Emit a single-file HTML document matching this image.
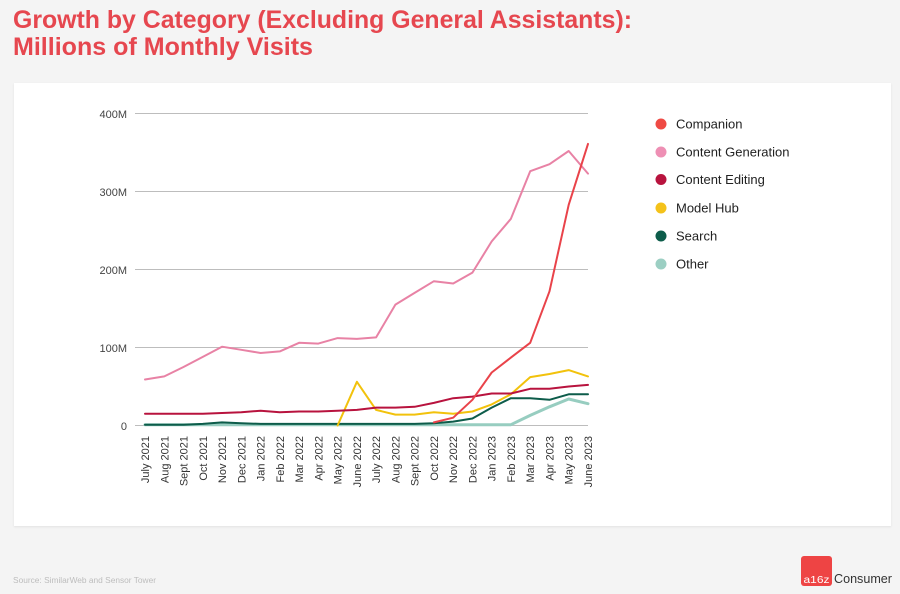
<!DOCTYPE html>
<html>
<head>
<meta charset="utf-8">
<style>
  html,body{margin:0;padding:0;background:#f4f4f4;}
  body{width:900px;height:594px;overflow:hidden;position:relative;font-family:"Liberation Sans",sans-serif;}
  svg{position:absolute;left:0;top:0;}
</style>
</head>
<body>
<svg width="900" height="594" viewBox="0 0 900 594" xmlns="http://www.w3.org/2000/svg" font-family="Liberation Sans, sans-serif">
  <defs>
    <filter id="sh" x="-5%" y="-5%" width="110%" height="110%">
      <feDropShadow dx="0" dy="1" stdDeviation="1" flood-color="#000" flood-opacity="0.08"/>
    </filter>
  </defs>
  <rect x="0" y="0" width="900" height="594" fill="#f4f4f4"/>
  <!-- Title -->
  <text x="13" y="28" font-size="25" font-weight="bold" fill="#e6474f" textLength="619" lengthAdjust="spacingAndGlyphs">Growth by Category (Excluding General Assistants):</text>
  <text x="13" y="55" font-size="25" font-weight="bold" fill="#e6474f" textLength="300" lengthAdjust="spacingAndGlyphs">Millions of Monthly Visits</text>

  <!-- Card -->
  <rect x="14" y="83" width="877" height="443" fill="#ffffff" filter="url(#sh)"/>

  <!-- Gridlines -->
  <g stroke="#bdbdbd" stroke-width="1">
    <line x1="135" y1="113.5" x2="588" y2="113.5"/>
    <line x1="135" y1="191.5" x2="588" y2="191.5"/>
    <line x1="135" y1="269.5" x2="588" y2="269.5"/>
    <line x1="135" y1="347.5" x2="588" y2="347.5"/>
    <line x1="135" y1="425.5" x2="588" y2="425.5"/>
  </g>
  <!-- Y labels -->
  <g font-size="11" fill="#444" text-anchor="end">
    <text x="127" y="118">400M</text>
    <text x="127" y="196">300M</text>
    <text x="127" y="274">200M</text>
    <text x="127" y="352">100M</text>
    <text x="127" y="430">0</text>
  </g>

  <!-- Series -->
  <g fill="none" stroke-width="2" stroke-linejoin="round" stroke-linecap="round">
    <!-- Other -->
    <polyline stroke="#97cdc0" stroke-width="3" points="145,424.7 164.3,424.7 183.5,424.7 202.8,424.7 222,424.7 241.3,424.7 260.6,424.7 279.8,424.7 299.1,424.7 318.3,424.7 337.6,424.7 356.9,424.7 376.1,424.7 395.4,424.7 414.6,424.7 433.9,424.7 453.2,424.7 472.4,424.7 491.7,424.7 510.9,424.7 530.2,415.4 549.5,406.8 568.7,399 588,403.7"/>
    <!-- Search -->
    <polyline stroke="#0d5c4a" points="145,424.7 164.3,424.7 183.5,424.7 202.8,423.9 222,422.4 241.3,423.2 260.6,423.9 279.8,423.9 299.1,423.9 318.3,423.9 337.6,423.9 356.9,423.9 376.1,423.9 395.4,423.9 414.6,423.9 433.9,423.2 453.2,421.6 472.4,418.5 491.7,407.6 510.9,398.2 530.2,398.2 549.5,399.8 568.7,394.3 588,394.3"/>
    <!-- Model Hub -->
    <polyline stroke="#f2c20c" points="337.6,425.5 356.9,381.8 376.1,409.9 395.4,414.6 414.6,414.6 433.9,412.2 453.2,413.8 472.4,411.5 491.7,404.4 510.9,394.3 530.2,377.1 549.5,374 568.7,370.1 588,376.4"/>
    <!-- Content Editing -->
    <polyline stroke="#b8133e" points="145,413.8 164.3,413.8 183.5,413.8 202.8,413.8 222,413 241.3,412.2 260.6,410.7 279.8,412.2 299.1,411.5 318.3,411.5 337.6,410.7 356.9,409.9 376.1,407.6 395.4,407.6 414.6,406.8 433.9,402.9 453.2,398.2 472.4,396.6 491.7,393.5 510.9,393.5 530.2,388.8 549.5,388.8 568.7,386.5 588,384.9"/>
    <!-- Content Generation -->
    <polyline stroke="#e882a5" points="145,379.5 164.3,376.4 183.5,367 202.8,356.9 222,346.7 241.3,349.8 260.6,353 279.8,351.4 299.1,342.8 318.3,343.6 337.6,338.1 356.9,338.9 376.1,337.4 395.4,304.6 414.6,292.9 433.9,281.2 453.2,283.5 472.4,272.6 491.7,241.4 510.9,218.8 530.2,171.2 549.5,164.2 568.7,151 588,173.6"/>
    <!-- Companion -->
    <polyline stroke="#e9434a" points="433.9,422.4 453.2,417.7 472.4,399.8 491.7,372.5 510.9,357.6 530.2,342.8 549.5,291.3 568.7,204.8 588,143.9"/>
  </g>

  <!-- X labels -->
  <g font-size="11" fill="#333" text-anchor="end">
    <text transform="translate(149,436) rotate(-90)">July 2021</text>
    <text transform="translate(168.3,436) rotate(-90)">Aug 2021</text>
    <text transform="translate(187.5,436) rotate(-90)">Sept 2021</text>
    <text transform="translate(206.8,436) rotate(-90)">Oct 2021</text>
    <text transform="translate(226,436) rotate(-90)">Nov 2021</text>
    <text transform="translate(245.3,436) rotate(-90)">Dec 2021</text>
    <text transform="translate(264.6,436) rotate(-90)">Jan 2022</text>
    <text transform="translate(283.8,436) rotate(-90)">Feb 2022</text>
    <text transform="translate(303.1,436) rotate(-90)">Mar 2022</text>
    <text transform="translate(322.3,436) rotate(-90)">Apr 2022</text>
    <text transform="translate(341.6,436) rotate(-90)">May 2022</text>
    <text transform="translate(360.9,436) rotate(-90)">June 2022</text>
    <text transform="translate(380.1,436) rotate(-90)">July 2022</text>
    <text transform="translate(399.4,436) rotate(-90)">Aug 2022</text>
    <text transform="translate(418.6,436) rotate(-90)">Sept 2022</text>
    <text transform="translate(437.9,436) rotate(-90)">Oct 2022</text>
    <text transform="translate(457.2,436) rotate(-90)">Nov 2022</text>
    <text transform="translate(476.4,436) rotate(-90)">Dec 2022</text>
    <text transform="translate(495.7,436) rotate(-90)">Jan 2023</text>
    <text transform="translate(514.9,436) rotate(-90)">Feb 2023</text>
    <text transform="translate(534.2,436) rotate(-90)">Mar 2023</text>
    <text transform="translate(553.5,436) rotate(-90)">Apr 2023</text>
    <text transform="translate(572.7,436) rotate(-90)">May 2023</text>
    <text transform="translate(592,436) rotate(-90)">June 2023</text>
  </g>

  <!-- Legend -->
  <g font-size="13" fill="#222">
    <circle cx="661" cy="124" r="5.5" fill="#ef4a44"/>
    <text x="676" y="128.5">Companion</text>
    <circle cx="661" cy="152" r="5.5" fill="#ee8fb4"/>
    <text x="676" y="156.5">Content Generation</text>
    <circle cx="661" cy="179.5" r="5.5" fill="#b8133e"/>
    <text x="676" y="184">Content Editing</text>
    <circle cx="661" cy="208" r="5.5" fill="#f4c21a"/>
    <text x="676" y="212.5">Model Hub</text>
    <circle cx="661" cy="236" r="5.5" fill="#0d5c4a"/>
    <text x="676" y="240.5">Search</text>
    <circle cx="661" cy="264" r="5.5" fill="#9ccfc3"/>
    <text x="676" y="268.5">Other</text>
  </g>

  <!-- Source -->
  <text x="13" y="583" font-size="8" fill="#bdbdbd" textLength="143" lengthAdjust="spacingAndGlyphs">Source: SimilarWeb and Sensor Tower</text>

  <!-- Logo -->
  <rect x="801" y="556" width="31" height="30" rx="3" fill="#ee4444"/>
  <text x="803.5" y="583" font-size="10.5" fill="#ffffff" textLength="26" lengthAdjust="spacingAndGlyphs">a16z</text>
  <text x="834" y="583" font-size="12.5" fill="#333" textLength="58" lengthAdjust="spacingAndGlyphs">Consumer</text>
</svg>
</body>
</html>
